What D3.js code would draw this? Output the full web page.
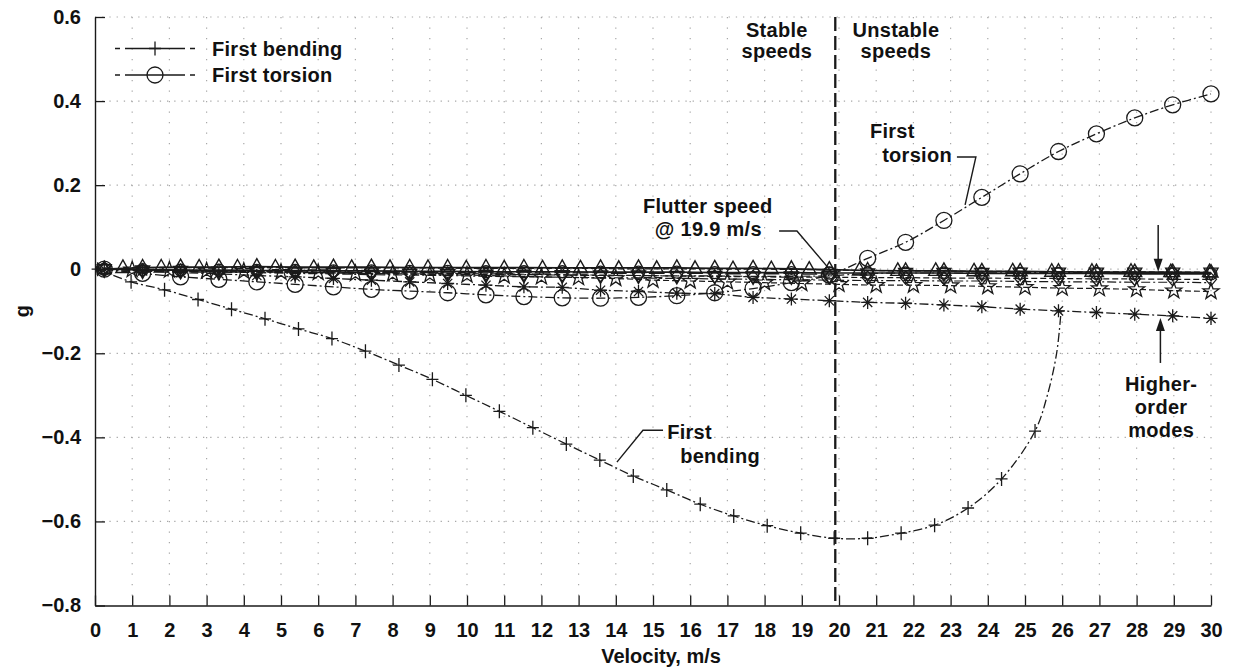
<!DOCTYPE html>
<html><head><meta charset="utf-8">
<script src="https://cdn.jsdelivr.net/npm/d3@7"></script>
<style>
html,body{margin:0;padding:0;background:#fff;}
svg text{font-family:"Liberation Sans",Arial,Helvetica,sans-serif;font-weight:bold;fill:#111;}
</style></head>
<body>
<svg id="chart" width="1235" height="670"></svg>
<script>
// ---------- data ----------
const xTicks = [0,1,2,3,4,5,6,7,8,9,10,11,12,13,14,15,16,17,18,19,20,21,22,23,24,25,26,27,28,29,30];
const yTicks = [0.6,0.4,0.2,0,-0.2,-0.4,-0.6,-0.8];
const yTickLabels = ["0.6","0.4","0.2","0","\u22120.2","\u22120.4","\u22120.6","\u22120.8"];

const velocity = [0.25,1.28,2.30,3.33,4.35,5.38,6.41,7.43,8.46,9.48,10.51,11.53,12.56,13.59,14.61,15.64,16.66,17.69,18.72,19.74,20.77,21.79,22.82,23.84,24.87,25.90,26.92,27.95,28.97,30.00];
const velocityB = [0.75,1.78,2.80,3.83,4.85,5.88,6.90,7.93,8.95,9.98,11.00,12.03,13.05,14.08,15.10,16.13,17.15,18.18,19.20,20.55,21.58,22.60,23.63,24.67,25.72,26.80,27.85,28.92,29.96];
const velocityStar = [1,2,3,4,5,6,7,8,9,10,11,12,13,14,15,16,17,18,19,20,21,22,23,24,25,26,27,28,29,30];
const velocityBending = [0.07,0.97,1.87,2.77,3.67,4.57,5.47,6.37,7.27,8.17,9.07,9.97,10.87,11.77,12.67,13.57,14.47,15.37,16.27,17.17,18.07,18.97,19.87,20.77,21.67,22.57,23.47,24.37,25.27,25.60,25.85,25.97];

const firstBending = [0.000,-0.030,-0.049,-0.072,-0.095,-0.118,-0.142,-0.165,-0.195,-0.228,-0.262,-0.300,-0.338,-0.377,-0.416,-0.454,-0.492,-0.525,-0.559,-0.587,-0.610,-0.628,-0.640,-0.640,-0.628,-0.609,-0.568,-0.499,-0.385,-0.300,-0.200,-0.099];
const bendingMarkerCount = 29;
const firstTorsion = [0.000,-0.010,-0.018,-0.024,-0.030,-0.036,-0.042,-0.048,-0.052,-0.056,-0.061,-0.065,-0.068,-0.069,-0.067,-0.063,-0.056,-0.046,-0.032,-0.014,0.026,0.064,0.116,0.171,0.227,0.280,0.322,0.360,0.391,0.417];
const modeAsterisk = [0.000,-0.004,-0.008,-0.011,-0.015,-0.018,-0.022,-0.026,-0.030,-0.034,-0.038,-0.042,-0.043,-0.050,-0.053,-0.057,-0.058,-0.067,-0.071,-0.075,-0.079,-0.081,-0.085,-0.089,-0.095,-0.099,-0.103,-0.107,-0.111,-0.117];
const modeStar = [-0.001,-0.002,-0.004,-0.005,-0.007,-0.008,-0.010,-0.011,-0.013,-0.014,-0.016,-0.018,-0.020,-0.022,-0.026,-0.028,-0.030,-0.032,-0.034,-0.036,-0.038,-0.038,-0.039,-0.041,-0.043,-0.045,-0.046,-0.048,-0.051,-0.053];
const modeTriUp = [0.000,0.004,0.005,0.005,0.006,0.005,0.005,0.005,0.004,0.004,0.004,0.004,0.003,0.003,0.003,0.003,0.002,0.002,0.001,-0.001,-0.003,-0.004,-0.004,-0.005,-0.005,-0.006,-0.007,-0.007,-0.007,-0.008];
const modeTriUpB = [0.003,0.004,0.004,0.004,0.004,0.003,0.003,0.003,0.003,0.002,0.002,0.002,0.002,0.001,0.001,0.001,0.000,0.000,-0.001,-0.003,-0.004,-0.004,-0.005,-0.005,-0.006,-0.006,-0.006,-0.007,-0.007];
const modeCircle = [0.000,-0.001,-0.002,-0.002,-0.003,-0.003,-0.004,-0.004,-0.005,-0.005,-0.006,-0.006,-0.006,-0.007,-0.007,-0.007,-0.008,-0.008,-0.008,-0.009,-0.009,-0.009,-0.009,-0.010,-0.010,-0.010,-0.010,-0.011,-0.011,-0.011];
const modeTriDown = [0.000,-0.003,-0.004,-0.006,-0.007,-0.008,-0.009,-0.010,-0.011,-0.012,-0.013,-0.013,-0.014,-0.015,-0.015,-0.016,-0.016,-0.017,-0.017,-0.016,-0.010,-0.009,-0.009,-0.009,-0.008,-0.008,-0.008,-0.008,-0.008,-0.008];
const modeDiamond = [0.000,-0.002,-0.003,-0.004,-0.005,-0.006,-0.007,-0.008,-0.009,-0.010,-0.011,-0.012,-0.013,-0.014,-0.015,-0.016,-0.017,-0.018,-0.019,-0.019,-0.020,-0.020,-0.021,-0.021,-0.022,-0.022,-0.023,-0.023,-0.024,-0.024];
const modeDashDot = [0.000,-0.003,-0.005,-0.007,-0.008,-0.010,-0.011,-0.013,-0.014,-0.015,-0.017,-0.018,-0.019,-0.020,-0.021,-0.022,-0.023,-0.024,-0.025,-0.026,-0.027,-0.027,-0.028,-0.028,-0.029,-0.030,-0.030,-0.031,-0.031,-0.032];

const flutterSpeed = 19.9;
const legendLabels = ["First bending","First torsion"];

// ---------- setup ----------
const svg = d3.select("#chart");
const x = d3.scaleLinear().domain([0,30]).range([95,1211]);
const y = d3.scaleLinear().domain([-0.8,0.6]).range([605.5,17]);
const INK = "#1a1a1a";

// grid
const grid = svg.append("g");
grid.selectAll("line.v").data(xTicks.filter(d=>d>0)).join("line")
  .attr("x1",d=>x(d)).attr("x2",d=>x(d)).attr("y1",y(0.6)).attr("y2",y(-0.8))
  .attr("stroke","#a8a8a8").attr("stroke-width",1.2).attr("stroke-dasharray","1.3,9.2");
grid.selectAll("line.h").data(yTicks.filter(d=>d>-0.8)).join("line")
  .attr("x1",x(0)).attr("x2",x(30)).attr("y1",d=>y(d)).attr("y2",d=>y(d))
  .attr("stroke","#a8a8a8").attr("stroke-width",1.2).attr("stroke-dasharray","1.3,5.9");

// axes
const xAxis = d3.axisBottom(x).tickValues(xTicks).tickSizeInner(-10).tickSizeOuter(0).tickPadding(17).tickFormat(d3.format("d"));
const gx = svg.append("g").attr("transform",`translate(0,${y(-0.8)})`).call(xAxis);
gx.select(".domain").attr("stroke",INK).attr("stroke-width",1.4);
gx.selectAll(".tick line").attr("stroke",INK).attr("stroke-width",1.3);
gx.selectAll(".tick text").attr("font-size",20).attr("fill","#111").attr("font-family","Liberation Sans, Arial, sans-serif").attr("font-weight","bold");

const yAxis = d3.axisLeft(y).tickValues(yTicks).tickSizeInner(-10).tickSizeOuter(0).tickPadding(14)
  .tickFormat((d,i)=>yTickLabels[i]);
const gy = svg.append("g").attr("transform",`translate(${x(0)},0)`).call(yAxis);
gy.select(".domain").attr("stroke",INK).attr("stroke-width",1.4);
gy.selectAll(".tick line").attr("stroke",INK).attr("stroke-width",1.3);
gy.selectAll(".tick text").attr("font-size",20).attr("fill","#111").attr("font-family","Liberation Sans, Arial, sans-serif").attr("font-weight","bold");

svg.append("text").attr("transform",`translate(29,${(y(0.6)+y(-0.8))/2}) rotate(-90)`)
  .attr("text-anchor","middle").attr("font-size",20).text("g");
svg.append("text").attr("x",(x(0)+x(30))/2+8).attr("y",663).attr("text-anchor","middle")
  .attr("font-size",20).text("Velocity, m/s");

// flutter line
svg.append("line").attr("x1",x(flutterSpeed)).attr("x2",x(flutterSpeed))
  .attr("y1",y(0.6)).attr("y2",y(-0.8))
  .attr("stroke",INK).attr("stroke-width",2.3).attr("stroke-dasharray","14,5");

// ---------- markers ----------
function starPath(ro, ri){
  const pts=[];
  for(let i=0;i<10;i++){const a=-Math.PI/2+i*Math.PI/5;const r=i%2?ri:ro;pts.push([r*Math.cos(a),r*Math.sin(a)]);}
  return "M"+pts.map(p=>p[0].toFixed(2)+","+p[1].toFixed(2)).join("L")+"Z";
}
const markerPaths = {
  plus: "M-6,0H6M0,-7V7",
  asterisk: "M-6.5,0H6.5M0,-6.5V6.5M-4.6,-4.6L4.6,4.6M-4.6,4.6L4.6,-4.6",
  star: starPath(8.5,3.4),
  triUp: "M0,-8L7,4.5L-7,4.5Z",
  triDown: "M0,8L7,-4.5L-7,-4.5Z",
  diamond: "M0,-6.5L5.5,0L0,6.5L-5.5,0Z",
  circleBig: d3.symbol(d3.symbolCircle, Math.PI*64)(),
  circleSmall: d3.symbol(d3.symbolCircle, Math.PI*36)()
};

function drawSeries(xs, ys, opt){
  const g = svg.append("g");
  const pts = xs.map((v,i)=>[v, ys[i]]);
  const line = d3.line().x(d=>x(d[0])).y(d=>y(d[1])).curve(opt.curve || d3.curveLinear);
  g.append("path").attr("d",line(pts)).attr("fill","none").attr("stroke",INK)
    .attr("stroke-width",opt.width||1.3).attr("stroke-dasharray",opt.dash||null);
  const mpts = opt.markerCount ? pts.slice(0,opt.markerCount) : pts;
  if(opt.marker){
    g.selectAll("path.m").data(mpts).join("path")
      .attr("transform",d=>`translate(${x(d[0])},${y(d[1])})`)
      .attr("d",markerPaths[opt.marker]).attr("fill","none").attr("stroke",INK).attr("stroke-width",opt.mw||1.3);
  }
}

const DASHDOT = "9,3,2,3";
drawSeries(velocity, modeDashDot, {dash:DASHDOT, width:1.2});
drawSeries(velocity, modeDiamond, {dash:"6,3", marker:"diamond", width:1.2});
drawSeries(velocityStar, modeStar, {dash:"6,3", marker:"star", width:1.2});
drawSeries(velocity, modeTriDown, {dash:DASHDOT, marker:"triDown", width:1.2, mw:1.4});
drawSeries(velocity, modeCircle, {marker:"circleSmall", width:1.7});
drawSeries(velocityB, modeTriUpB, {dash:"6,3", marker:"triUp", width:1.2, mw:1.4});
drawSeries(velocity, modeTriUp, {marker:"triUp", width:1.7, mw:1.4});
drawSeries(velocity, modeAsterisk, {dash:DASHDOT, marker:"asterisk", width:1.3});
drawSeries(velocityBending, firstBending, {dash:DASHDOT, marker:"plus", markerCount:bendingMarkerCount, curve:d3.curveCatmullRom, width:1.3});
drawSeries(velocity, firstTorsion, {dash:DASHDOT, marker:"circleBig", curve:d3.curveCatmullRom, width:1.3});

// ---------- annotations ----------
function txt(v,g,s,anchor){
  svg.append("text").attr("x",x(v)).attr("y",y(g)).attr("text-anchor",anchor||"start")
    .attr("font-size",20).attr("letter-spacing",0.3).text(s);
}
function leader(pts){
  svg.append("path").attr("d",d3.line().x(d=>x(d[0])).y(d=>y(d[1]))(pts))
    .attr("fill","none").attr("stroke",INK).attr("stroke-width",1.4);
}
function arrow(v,g1,g2){
  const x0=x(v), y1=y(g1), y2=y(g2), dir = y2>y1?1:-1;
  svg.append("line").attr("x1",x0).attr("x2",x0).attr("y1",y1).attr("y2",y2-dir*10)
    .attr("stroke",INK).attr("stroke-width",1.5);
  svg.append("path").attr("d",`M${x0},${y2}L${x0-4.5},${y2-dir*13}L${x0+4.5},${y2-dir*13}Z`).attr("fill",INK);
}
txt(18.33,0.5525,"Stable","middle");
txt(18.33,0.5025,"speeds","middle");
txt(21.53,0.5525,"Unstable","middle");
txt(21.53,0.5025,"speeds","middle");

txt(20.83,0.312,"First");
txt(21.16,0.255,"torsion");
leader([[23.17,0.267],[23.68,0.267],[23.39,0.153]]);

txt(14.73,0.134,"Flutter speed");
txt(15.05,0.079,"@ 19.9 m/s");
leader([[18.39,0.091],[18.87,0.091],[19.81,-0.007]]);

txt(15.38,-0.405,"First");
txt(15.73,-0.461,"bending");
leader([[15.27,-0.383],[14.73,-0.383],[14.03,-0.459]]);

txt(28.66,-0.290,"Higher-","middle");
txt(28.66,-0.345,"order","middle");
txt(28.66,-0.400,"modes","middle");
arrow(28.64,-0.223,-0.116);
arrow(28.58,0.105,-0.006);

// ---------- legend ----------
const leg = svg.append("g");
const legendMarkers = ["plus","circleBig"];
legendLabels.forEach((lab,i)=>{
  const yy = 48.5 + i*26.5;
  leg.append("line").attr("x1",115).attr("x2",195).attr("y1",yy).attr("y2",yy)
    .attr("stroke",INK).attr("stroke-width",1.3).attr("stroke-dasharray","5,5,60,5,5");
  leg.append("path").attr("transform",`translate(155,${yy})`).attr("d",markerPaths[legendMarkers[i]])
    .attr("fill","none").attr("stroke",INK).attr("stroke-width",1.3);
  leg.append("text").attr("x",212).attr("y",yy+7).attr("font-size",20).attr("letter-spacing",0.3).text(lab);
});
</script>
</body></html>
